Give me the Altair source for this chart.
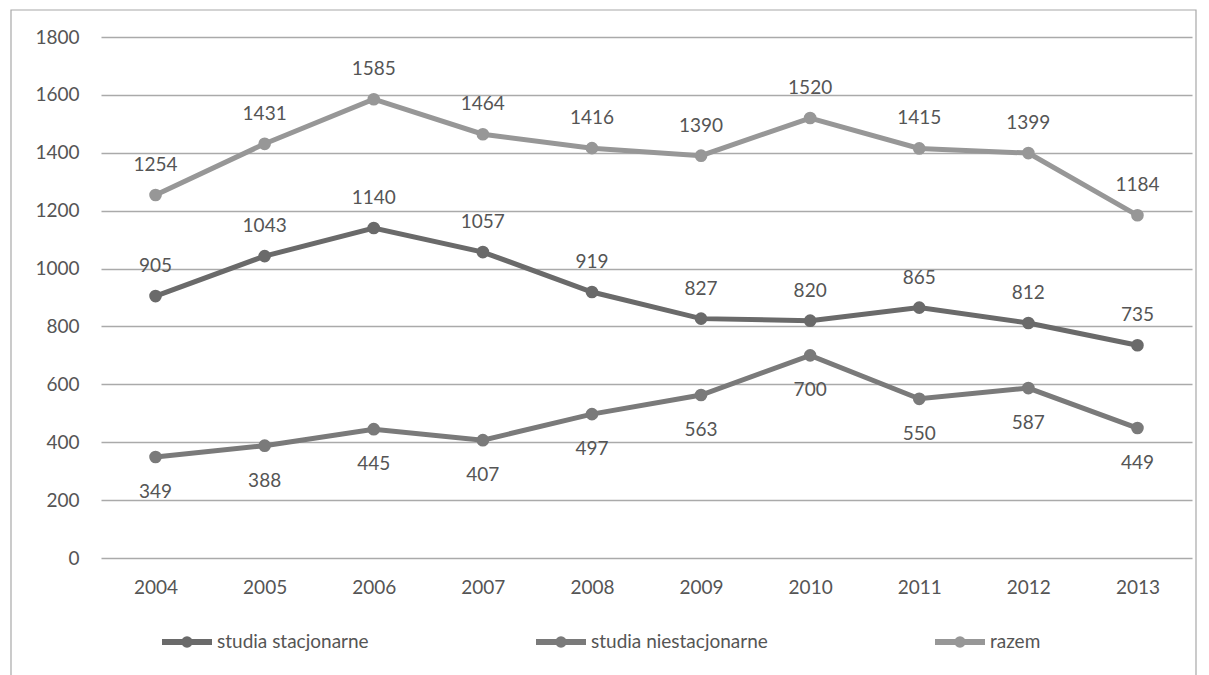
import altair as alt
import pandas as pd

years = ["2004", "2005", "2006", "2007", "2008", "2009", "2010", "2011", "2012", "2013"]
stacjonarne = [905, 1043, 1140, 1057, 919, 827, 820, 865, 812, 735]
niestacjonarne = [349, 388, 445, 407, 497, 563, 700, 550, 587, 449]
razem = [1254, 1431, 1585, 1464, 1416, 1390, 1520, 1415, 1399, 1184]

series_names = ["studia stacjonarne", "studia niestacjonarne", "razem"]
series_colors = ["#6a6a6a", "#7a7a7a", "#979797"]
y_ticks = [0, 200, 400, 600, 800, 1000, 1200, 1400, 1600, 1800]

rows = []
for name, vals in zip(series_names, [stacjonarne, niestacjonarne, razem]):
    for y, v in zip(years, vals):
        rows.append({"rok": y, "seria": name, "liczba": v})
df = pd.DataFrame(rows)

FONT = "Lato"
W, H = 1091, 521

x_enc = alt.X("rok:O", scale=alt.Scale(type="point", padding=0.5, domain=years),
              axis=alt.Axis(title=None, labelAngle=0, domain=False, ticks=False,
                            labelPadding=20, grid=False))
y_enc = alt.Y("liczba:Q", scale=alt.Scale(domain=[0, 1800], nice=False),
              axis=alt.Axis(title=None, values=y_ticks, format="d", domain=False, ticks=False,
                            labelPadding=22, grid=True))
color_scale = alt.Scale(domain=series_names, range=series_colors)

legend_path = "M-1,0H1M-0.11,0A0.11,0.11,0,1,1,0.11,0A0.11,0.11,0,1,1,-0.11,0Z"

base = alt.Chart(df)

lines = base.mark_line(strokeWidth=5).encode(
    x=x_enc, y=y_enc,
    color=alt.Color("seria:N", scale=color_scale, sort=series_names,
                    legend=alt.Legend(title=None, orient="none", direction="horizontal",
                                      legendX=58, legendY=577,
                                      symbolType=legend_path, symbolSize=2500,
                                      symbolStrokeWidth=6, labelOffset=2,
                                      columnPadding=155, gridAlign="none",
                                      labelFontSize=19, labelFont=FONT,
                                      labelColor="#555555", labelLimit=400)),
)

points = base.mark_point(filled=True, size=160, opacity=1).encode(
    x=x_enc, y=y_enc,
    color=alt.Color("seria:N", scale=color_scale, legend=None),
)

above = base.mark_text(dy=-30, fontSize=19, font=FONT, color="#555555", baseline="middle").encode(
    x=x_enc, y=y_enc, text="liczba:Q",
).transform_filter(alt.datum.seria != "studia niestacjonarne")

below = base.mark_text(dy=35, fontSize=19, font=FONT, color="#555555", baseline="middle").encode(
    x=x_enc, y=y_enc, text="liczba:Q",
).transform_filter(alt.datum.seria == "studia niestacjonarne")

border = alt.Chart(pd.DataFrame({"b": [0]})).mark_rect(
    fill=None, stroke="#a8a8a8", strokeWidth=1.2, clip=False
).encode(x=alt.value(-90), x2=alt.value(1095), y=alt.value(-27), y2=alt.value(660))

chart = alt.layer(border, lines, points, above, below).properties(
    width=W, height=H, background="#ffffff",
    padding={"left": 2, "top": 1, "right": 2, "bottom": 0}
).configure_view(stroke=None).configure_axis(
    labelFont=FONT, labelFontSize=19, labelColor="#555555",
    gridColor="#aaaaaa", gridWidth=1.6, gridOpacity=1,
)

chart.save("out.html", embed_options={"renderer": "svg", "actions": False})
